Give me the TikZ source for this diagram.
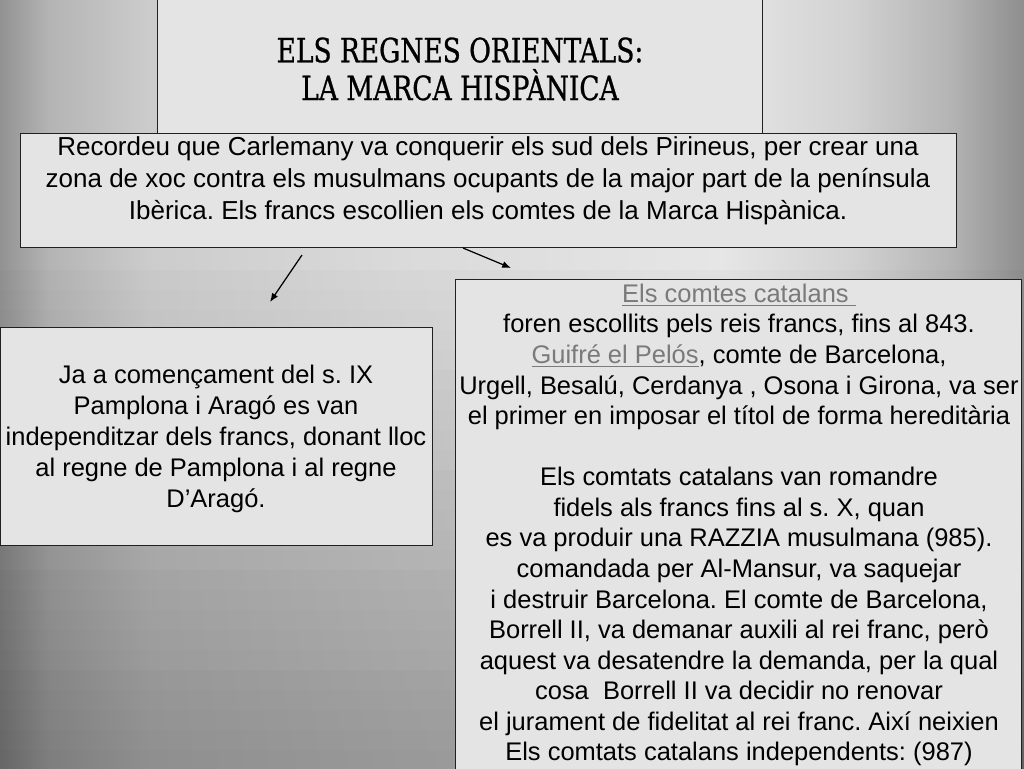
\documentclass[tikz,border=0pt]{standalone}
\usepackage{fontspec}
\setmainfont{Liberation Sans}
\newfontfamily\titlefont[FakeStretch=0.88,FakeBold=0.8]{DejaVu Serif Condensed}
\usetikzlibrary{arrows.meta}
\frenchspacing
\definecolor{boxfill}{HTML}{E4E4E4}
\definecolor{boxline}{HTML}{202020}
\definecolor{linkgray}{HTML}{7A7A7A}
\definecolor{bga}{HTML}{929292}
\definecolor{bgb}{HTML}{B4B4B4}
\definecolor{bgc}{HTML}{CCCCCC}
\definecolor{bgd}{HTML}{DADADA}
\definecolor{bge}{HTML}{E6E6E6}
\definecolor{bgf}{HTML}{D2D2D2}
\definecolor{bgg}{HTML}{B4B4B4}
\definecolor{bgh}{HTML}{8E8E8E}
\tikzset{
  panel/.style={draw=boxline, line width=0.7pt, fill=boxfill, rectangle, inner sep=0pt, anchor=north west},
  bodytext/.style={align=center, inner sep=0pt, text=black, font=\fontsize{14.5}{17.4}\selectfont},
  conn/.style={line width=0.7pt, -{Latex[length=5pt,width=4pt]}}
}
\newcommand{\lnk}[1]{\textcolor{linkgray}{\underline{#1}}}
\newcommand{\bgrowshade}[2]{%
  \pgfdeclarehorizontalshading{bgrow#1}{100bp}{color(0bp)=(bga!#2!black); color(25bp)=(bga!#2!black); color(27.4bp)=(bgb!#2!black); color(32.3bp)=(bgc!#2!black); color(44.5bp)=(bgd!#2!black); color(60.2bp)=(bge!#2!black); color(66.5bp)=(bgf!#2!black); color(71.4bp)=(bgg!#2!black); color(75bp)=(bgh!#2!black); color(100bp)=(bgh!#2!black)}}
\begin{document}
\begin{tikzpicture}[x=0.02cm,y=-0.02cm]
\useasboundingbox (0,0) rectangle (1024,768);
\clip (0,0) rectangle (1024,768);
% background
\bgrowshade{top}{100}
\shade[shading=bgrowtop] (0,0) rectangle (1024,251);
\foreach \i in {0,...,25} {
  \pgfmathtruncatemacro{\pct}{100-30*\i/25}
  \bgrowshade{\i}{\pct}
  \shade[shading=bgrow\i] (0,{250+\i*20}) rectangle (1024,{271+\i*20});
}
% title box
\node[panel, minimum width=605*0.02cm, minimum height=140*0.02cm] (titlebox) at (157,-2) {};
\node[align=center, inner sep=0pt, font=\titlefont\fontsize{19}{21.5}\selectfont] (title) at (460,69) {ELS REGNES ORIENTALS:\\LA MARCA HISPÀNICA};
% intro box
\node[panel, minimum width=936*0.02cm, minimum height=114*0.02cm] (intro) at (20,133) {};
\node[bodytext, font=\fontsize{14.8}{18.1}\selectfont] (introtext) at (488,181) {Recordeu que Carlemany va conquerir els sud dels Pirineus, per crear una\\zona de xoc contra els musulmans ocupants de la major part de la península\\Ibèrica. Els francs escollien els comtes de la Marca Hispànica.};
% left box
\node[panel, minimum width=432*0.02cm, minimum height=218*0.02cm] (left) at (0,327) {};
\node[bodytext, font=\fontsize{14.5}{17.6}\selectfont] (lefttext) at (216,439) {Ja a començament del s. IX\\Pamplona i Aragó es van \\independitzar dels francs, donant lloc\\al regne de Pamplona i al regne\\D’Aragó.};
% right box
\node[panel, minimum width=566*0.02cm, minimum height=500*0.02cm] (right) at (455,279) {};
\node[bodytext] (righttext) at (739,525) {\lnk{Els comtes catalans\ }\\foren escollits pels reis francs, fins al 843.\\\lnk{Guifré el Pelós}, comte de Barcelona,\\Urgell, Besalú, Cerdanya , Osona i Girona, va ser\\el primer en imposar el títol de forma hereditària\\[17.4pt]Els comtats catalans van romandre\\fidels als francs fins al s. X, quan\\es va produir una RAZZIA musulmana (985).\\comandada per Al-Mansur, va saquejar\\i destruir Barcelona. El comte de Barcelona,\\Borrell II, va demanar auxili al rei franc, però\\aquest va desatendre la demanda, per la qual\\cosa\ \ Borrell II va decidir no renovar\\el jurament de fidelitat al rei franc. Així neixien\\Els comtats catalans independents: (987)};
% arrows
\coordinate (a1s) at (302,255);
\coordinate (a1e) at (270,302);
\coordinate (a2s) at (463,248);
\coordinate (a2e) at (511,268);
\draw[conn] (a1s) -- (a1e);
\draw[conn] (a2s) -- (a2e);
\end{tikzpicture}
\end{document}
